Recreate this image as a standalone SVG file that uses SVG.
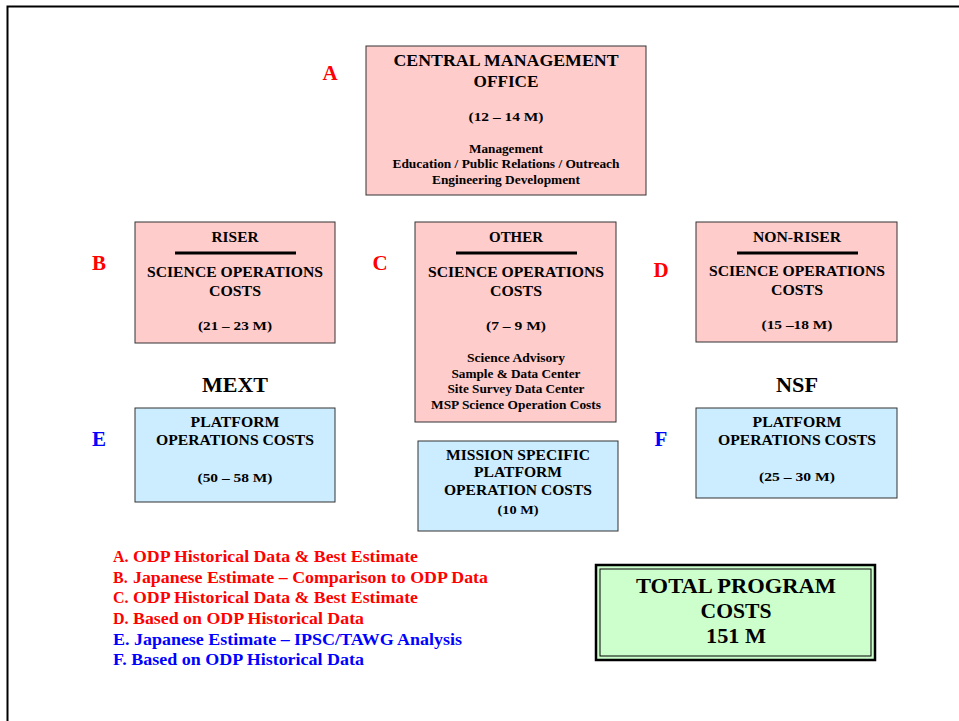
<svg xmlns="http://www.w3.org/2000/svg" width="959" height="721" viewBox="0 0 959 721">
<style>
text{font-family:"Liberation Serif","Times New Roman",serif;font-weight:bold;text-anchor:middle;fill:#000}
.pink{fill:#FFCCCC;stroke:#333;stroke-width:1}
.blue{fill:#CCECFF;stroke:#333;stroke-width:1}
.h16{font-size:17px}
.h14{font-size:15px}
.h13{font-size:13.5px}
.h12{font-size:12.5px}
.let{font-size:21px}
.red{fill:#FF0000}
.bl{fill:#0000FF}
.leg{font-size:16px;text-anchor:start}
.div{stroke:#000;stroke-width:3}
</style>
<rect x="0" y="0" width="959" height="721" fill="#fff"/>
<path d="M7.5,721 V6.5 H959" fill="none" stroke="#000" stroke-width="2"/>

<g id="nodeA">
<rect class="pink" x="366" y="46" width="280" height="149"/>
<text class="h16" x="506" y="66" textLength="225" lengthAdjust="spacingAndGlyphs">CENTRAL MANAGEMENT</text>
<text class="h16" x="506" y="87" textLength="65" lengthAdjust="spacingAndGlyphs">OFFICE</text>
<text class="h13" x="506" y="121" textLength="75" lengthAdjust="spacingAndGlyphs">(12 – 14 M)</text>
<text class="h12" x="506" y="153" textLength="74" lengthAdjust="spacingAndGlyphs">Management</text>
<text class="h12" x="506" y="168" textLength="227" lengthAdjust="spacingAndGlyphs">Education / Public Relations / Outreach</text>
<text class="h12" x="506" y="184" textLength="148" lengthAdjust="spacingAndGlyphs">Engineering Development</text>
</g>
<g id="nodeB">
<rect class="pink" x="135" y="222" width="200" height="121"/>
<text class="h14" x="235" y="242" textLength="47" lengthAdjust="spacingAndGlyphs">RISER</text>
<line class="div" x1="175" y1="253" x2="296" y2="253"/>
<text class="h14" x="235" y="277" textLength="176" lengthAdjust="spacingAndGlyphs">SCIENCE OPERATIONS</text>
<text class="h14" x="235" y="296" textLength="52" lengthAdjust="spacingAndGlyphs">COSTS</text>
<text class="h13" x="235" y="330" textLength="74" lengthAdjust="spacingAndGlyphs">(21 – 23 M)</text>
</g>
<g id="nodeC">
<rect class="pink" x="415" y="222" width="201" height="200"/>
<text class="h14" x="516" y="242" textLength="54" lengthAdjust="spacingAndGlyphs">OTHER</text>
<line class="div" x1="456" y1="253" x2="577" y2="253"/>
<text class="h14" x="516" y="277" textLength="176" lengthAdjust="spacingAndGlyphs">SCIENCE OPERATIONS</text>
<text class="h14" x="516" y="296" textLength="52" lengthAdjust="spacingAndGlyphs">COSTS</text>
<text class="h13" x="516" y="330" textLength="60" lengthAdjust="spacingAndGlyphs">(7 – 9 M)</text>
<text class="h12" x="516" y="362" textLength="98" lengthAdjust="spacingAndGlyphs">Science Advisory</text>
<text class="h12" x="516" y="378" textLength="129" lengthAdjust="spacingAndGlyphs">Sample &amp; Data Center</text>
<text class="h12" x="516" y="393" textLength="137" lengthAdjust="spacingAndGlyphs">Site Survey Data Center</text>
<text class="h12" x="516" y="409" textLength="170" lengthAdjust="spacingAndGlyphs">MSP Science Operation Costs</text>
</g>
<g id="nodeD">
<rect class="pink" x="696" y="222" width="201" height="120"/>
<text class="h14" x="797" y="242" textLength="88" lengthAdjust="spacingAndGlyphs">NON-RISER</text>
<line class="div" x1="737" y1="253" x2="858" y2="253"/>
<text class="h14" x="797" y="276" textLength="176" lengthAdjust="spacingAndGlyphs">SCIENCE OPERATIONS</text>
<text class="h14" x="797" y="295" textLength="52" lengthAdjust="spacingAndGlyphs">COSTS</text>
<text class="h13" x="797" y="329" textLength="71" lengthAdjust="spacingAndGlyphs">(15 –18 M)</text>
</g>
<g id="nodeE">
<rect class="blue" x="135" y="408" width="200" height="94"/>
<text class="h14" x="235" y="427" textLength="89" lengthAdjust="spacingAndGlyphs">PLATFORM</text>
<text class="h14" x="235" y="445" textLength="158" lengthAdjust="spacingAndGlyphs">OPERATIONS COSTS</text>
<text class="h13" x="235" y="482" textLength="75" lengthAdjust="spacingAndGlyphs">(50 – 58 M)</text>
</g>
<g id="nodeMSP">
<rect class="blue" x="418" y="441" width="200" height="90"/>
<text class="h14" x="518" y="460" textLength="144" lengthAdjust="spacingAndGlyphs">MISSION SPECIFIC</text>
<text class="h14" x="518" y="477" textLength="88" lengthAdjust="spacingAndGlyphs">PLATFORM</text>
<text class="h14" x="518" y="495" textLength="148" lengthAdjust="spacingAndGlyphs">OPERATION COSTS</text>
<text class="h13" x="518" y="514" textLength="41" lengthAdjust="spacingAndGlyphs">(10 M)</text>
</g>
<g id="nodeF">
<rect class="blue" x="696" y="408" width="201" height="90"/>
<text class="h14" x="797" y="427" textLength="89" lengthAdjust="spacingAndGlyphs">PLATFORM</text>
<text class="h14" x="797" y="445" textLength="158" lengthAdjust="spacingAndGlyphs">OPERATIONS COSTS</text>
<text class="h13" x="797" y="481" textLength="76" lengthAdjust="spacingAndGlyphs">(25 – 30 M)</text>
</g>
<g id="nodeTotal">
<rect x="596" y="565" width="279" height="95" fill="#CCFFCC" stroke="#000" stroke-width="2.5"/>
<rect x="600" y="569" width="271" height="87" fill="none" stroke="#000" stroke-width="1"/>
<text x="736" y="593" font-size="22" textLength="200" lengthAdjust="spacingAndGlyphs">TOTAL PROGRAM</text>
<text x="736" y="618" font-size="22" textLength="71" lengthAdjust="spacingAndGlyphs">COSTS</text>
<text x="736" y="643" font-size="22" textLength="60" lengthAdjust="spacingAndGlyphs">151 M</text>
</g>

<g id="labels">
<text class="let red" x="330" y="80">A</text>
<text class="let red" x="99" y="270">B</text>
<text class="let red" x="380" y="270">C</text>
<text class="let red" x="661" y="277">D</text>
<text class="let bl" x="99" y="446">E</text>
<text class="let bl" x="661" y="446">F</text>
<text x="235" y="392" font-size="21" textLength="66" lengthAdjust="spacingAndGlyphs">MEXT</text>
<text x="797" y="392" font-size="21" textLength="42" lengthAdjust="spacingAndGlyphs">NSF</text>
</g>

<g id="legend">
<text class="leg red" x="113" y="562">A.<tspan x="133" textLength="285" lengthAdjust="spacingAndGlyphs">ODP Historical Data &amp; Best Estimate</tspan></text>
<text class="leg red" x="113" y="583">B.<tspan x="133" textLength="355" lengthAdjust="spacingAndGlyphs">Japanese Estimate – Comparison to ODP Data</tspan></text>
<text class="leg red" x="113" y="603">C.<tspan x="133" textLength="285" lengthAdjust="spacingAndGlyphs">ODP Historical Data &amp; Best Estimate</tspan></text>
<text class="leg red" x="113" y="624">D.<tspan x="133" textLength="231" lengthAdjust="spacingAndGlyphs">Based on ODP Historical Data</tspan></text>
<text class="leg bl" x="113" y="645" textLength="349" lengthAdjust="spacingAndGlyphs">E. Japanese Estimate – IPSC/TAWG Analysis</text>
<text class="leg bl" x="113" y="665" textLength="251" lengthAdjust="spacingAndGlyphs">F. Based on ODP Historical Data</text>
</g>
<g id="connectors"></g>
</svg>
